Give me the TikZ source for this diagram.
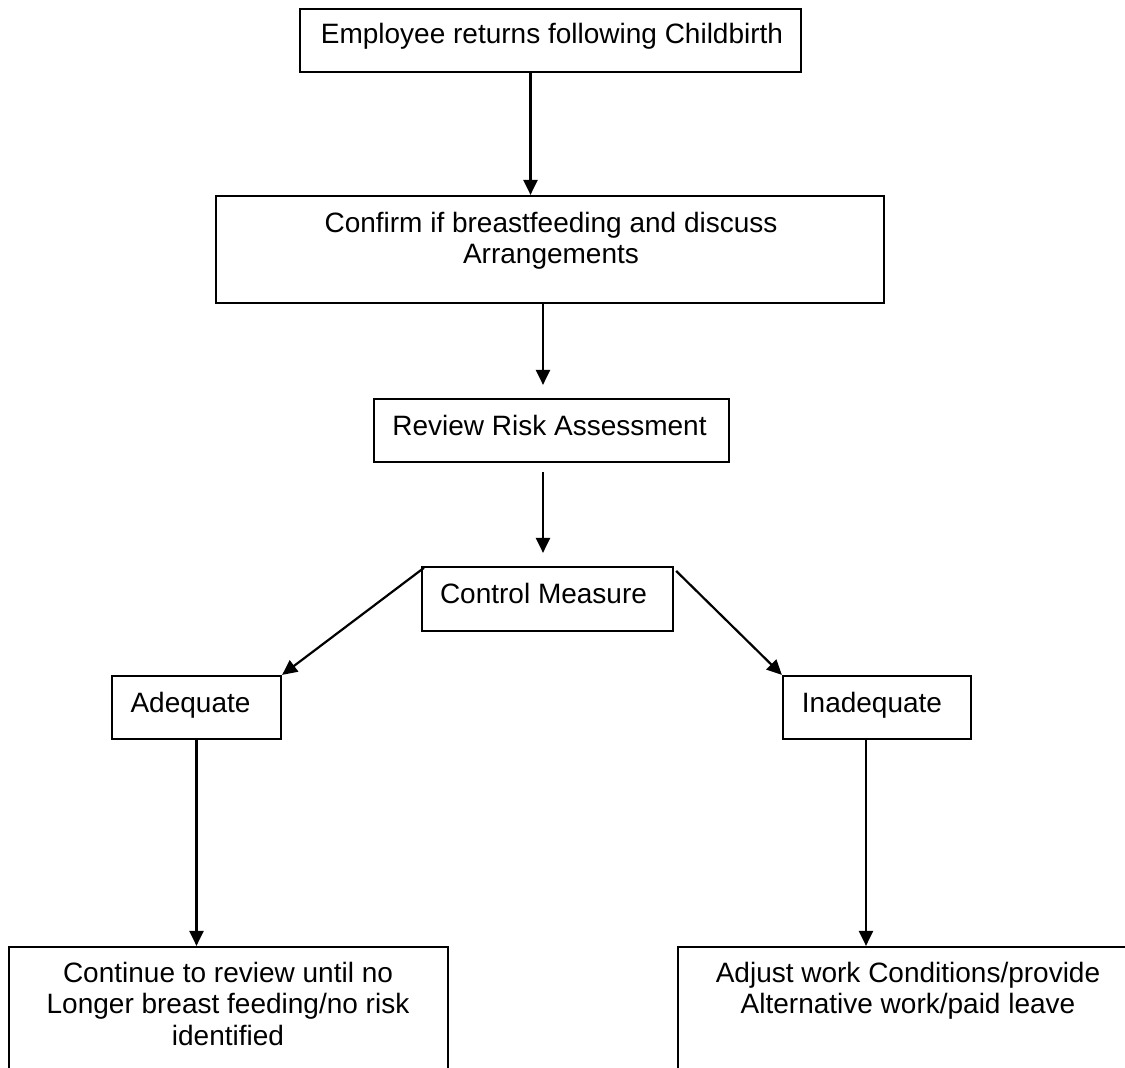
\documentclass[tikz,border=0pt]{standalone}
\usepackage{fontspec}
\setmainfont{Liberation Sans}
\usetikzlibrary{arrows.meta}
\tikzset{
  box/.style={draw, line width=2.2pt, rectangle, inner sep=0pt},
  txt/.style={font=\fontsize{28}{31.5}\selectfont, inner sep=0pt, anchor=base},
  arr/.style={line width=2.2pt, -{Triangle[length=15pt,width=14pt]}}
}
\begin{document}
\begin{tikzpicture}[x=1pt,y=-1pt]
\path[use as bounding box, clip] (0,0) rectangle (1125,1068);
% boxes
\node[box, minimum width=501pt, minimum height=63pt] (b1) at (550.5,40.5) {};
\node[box, minimum width=668pt, minimum height=107pt] (b2) at (550,249.5) {};
\node[box, minimum width=355pt, minimum height=63pt] (b3) at (551.5,430.5) {};
\node[box, minimum width=251pt, minimum height=64pt] (b4) at (547.5,599) {};
\node[box, minimum width=169pt, minimum height=63pt] (ade) at (196.5,707.5) {};
\node[box, minimum width=188pt, minimum height=63pt] (ina) at (877,707.5) {};
\node[box, minimum width=439pt, minimum height=133pt] (lb) at (228.5,1013.5) {};
\node[box, minimum width=460pt, minimum height=133pt] (rb) at (908,1013.5) {};
% texts
\node[txt] (t1) at (552,43) {Employee returns following Childbirth};
\node[txt] (t2) at (551,232) {\begin{tabular}[t]{@{}c@{}}Confirm if breastfeeding and discuss\\Arrangements\end{tabular}};
\node[txt] (t3) at (549.5,435) {Review Risk Assessment};
\node[txt] (t4) at (543.5,603) {Control Measure};
\node[txt] (ta) at (190.5,712) {Adequate};
\node[txt] (ti) at (872,712) {Inadequate};
\node[txt] (tl) at (228,982) {\begin{tabular}[t]{@{}c@{}}Continue to review until no\\Longer breast feeding/no risk\\identified\end{tabular}};
\node[txt] (tr) at (908,982) {\begin{tabular}[t]{@{}c@{}}Adjust work Conditions/provide\\Alternative work/paid leave\end{tabular}};
% connectors
\draw[arr] ([xshift=-20pt]b1.south) -- ([xshift=-20pt]b1.south |- b2.north);
\draw[arr, shorten >=13pt] ([xshift=-7pt]b2.south) -- ([xshift=-7pt]b2.south |- b3.north);
\draw[arr, shorten <=9pt, shorten >=13pt] ([xshift=-8.5pt]b3.south) -- ([xshift=-8.5pt]b3.south |- b4.north);
\draw[arr] ([shift={(3pt,-2pt)}]b4.north west) -- (ade.north east);
\draw[arr] ([shift={(2pt,-5pt)}]b4.north east) -- (ina.north west);
\draw[arr] (ade.south) -- (ade.south |- lb.north);
\draw[arr] ([xshift=-11pt]ina.south) -- ([xshift=-11pt]ina.south |- rb.north);
\end{tikzpicture}
\end{document}
